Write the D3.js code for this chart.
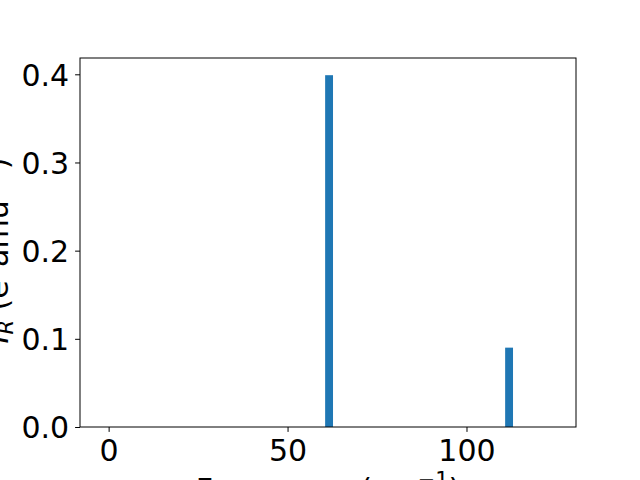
<!DOCTYPE html>
<html>
<head>
<meta charset="utf-8">
<script src="https://cdn.jsdelivr.net/npm/d3@7"></script>
<style>
  body { margin: 0; background: #fff; }
  svg text { font-family: "DejaVu Sans", sans-serif; fill: #000; }
</style>
</head>
<body>
<svg id="chart" width="640" height="480"></svg>
<script>
// частоты мод и их ИК-интенсивности
const frequencies = [61.6, 111.9];
const intensities = [0.399, 0.090];
const xTicks = [0, 50, 100];
const yTicks = [0.0, 0.1, 0.2, 0.3, 0.4];

const barWidth = 2.2;
const margin = { left: 80, right: 64, top: 58, bottom: 53 };
const width = 640, height = 480;
const fontSize = 30;

const svg = d3.select("#chart");

const x = d3.scaleLinear()
    .domain([-8, 130.6])
    .range([margin.left, width - margin.right]);

const y = d3.scaleLinear()
    .domain([0, 0.4185])
    .range([height - margin.bottom, margin.top]);

// столбики
svg.selectAll("rect.bar")
    .data(frequencies)
    .enter().append("rect")
    .attr("class", "bar")
    .attr("x", (d) => x(d - barWidth / 2))
    .attr("width", x(barWidth) - x(0))
    .attr("y", (d, i) => y(intensities[i]))
    .attr("height", (d, i) => y(0) - y(intensities[i]))
    .attr("fill", "#1f77b4");

// оси
const xAxis = svg.append("g")
    .attr("transform", `translate(0,${height - margin.bottom})`)
    .call(d3.axisBottom(x).tickValues(xTicks).tickFormat(d3.format("d"))
        .tickSize(4.9).tickPadding(4.9));

const yAxis = svg.append("g")
    .attr("transform", `translate(${margin.left},0)`)
    .call(d3.axisLeft(y).tickValues(yTicks).tickFormat(d3.format(".1f"))
        .tickSize(4.9).tickPadding(6));

[xAxis, yAxis].forEach(g => {
    g.select(".domain").remove();
    g.selectAll(".tick line").attr("stroke", "#000").attr("stroke-width", 1);
    g.selectAll(".tick text").style("font-size", fontSize + "px").attr("fill", "#000");
});
xAxis.selectAll(".tick text").attr("dy", "0.8em");
yAxis.selectAll(".tick text").attr("dy", "0.36em");

// рамка
svg.append("rect")
    .attr("x", margin.left)
    .attr("y", margin.top)
    .attr("width", width - margin.left - margin.right)
    .attr("height", height - margin.top - margin.bottom)
    .attr("fill", "none")
    .attr("stroke", "#000")
    .attr("stroke-width", 1);

// подписи осей
const supSize = Math.round(fontSize * 0.7) + "px";

const xLabel = svg.append("text")
    .attr("x", (margin.left + width - margin.right) / 2)
    .attr("y", 500)
    .attr("text-anchor", "middle")
    .style("font-size", fontSize + "px");
xLabel.append("tspan").text("Frequency (cm");
xLabel.append("tspan").attr("dy", -13).style("font-size", supSize).text("\u22121");
xLabel.append("tspan").attr("dy", 13).text(")");

const yLabel = svg.append("text")
    .attr("transform", `translate(8,${(margin.top + height - margin.bottom) / 2 + 8}) rotate(-90)`)
    .attr("text-anchor", "middle")
    .style("font-size", fontSize + "px");
yLabel.append("tspan").style("font-style", "italic").text("I");
yLabel.append("tspan").attr("dy", 5).style("font-size", supSize).style("font-style", "italic").text("R");
yLabel.append("tspan").attr("dy", -5).text(" (e");
yLabel.append("tspan").attr("dy", -13).style("font-size", supSize).text("2");
yLabel.append("tspan").attr("dy", 13).text("amu");
yLabel.append("tspan").attr("dy", -13).style("font-size", supSize).text("\u22121");
yLabel.append("tspan").attr("dy", 13).text(")");
</script>
</body>
</html>
